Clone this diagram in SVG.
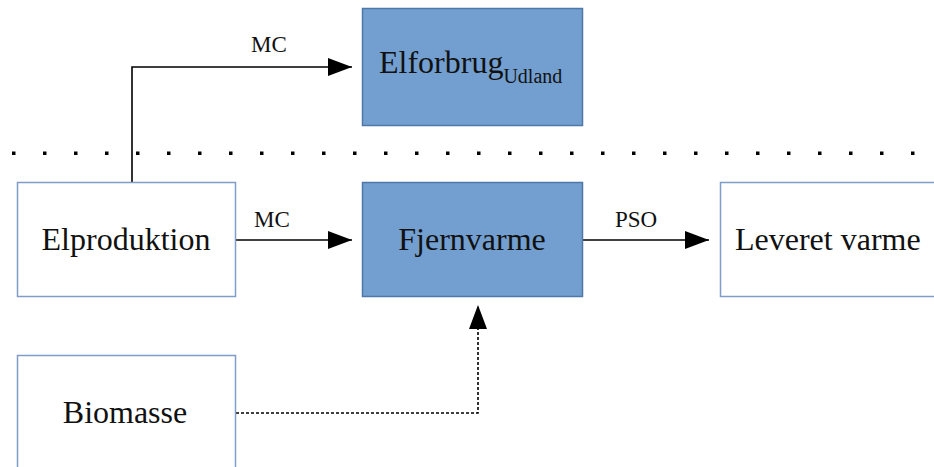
<svg xmlns="http://www.w3.org/2000/svg" width="934" height="467" viewBox="0 0 934 467">
<style>
  .box-w { fill: #ffffff; stroke: #7f9dc6; stroke-width: 1.5; }
  .box-b { fill: #729fcf; stroke: #4f78aa; stroke-width: 1.5; }
  .lbl { font-family: "Liberation Serif", "Times New Roman", serif; font-size: 32px; fill: #111; }
  .sub { font-family: "Liberation Serif", "Times New Roman", serif; font-size: 20px; fill: #111; }
  .elbl { font-family: "Liberation Serif", "Times New Roman", serif; font-size: 23px; fill: #111; text-anchor: middle; }
  .conn { fill: none; stroke: #000; stroke-width: 1.6; }
  .dash { stroke-dasharray: 3 2; }
  .dot { fill: #000; }
</style>
<defs>
  <marker id="arr" markerUnits="userSpaceOnUse" markerWidth="26" markerHeight="20" refX="24" refY="9" orient="auto">
    <path d="M0,0 L24,9 L0,18 z" fill="#000"/>
  </marker>
</defs>
<rect width="934" height="467" fill="#ffffff"/>

<g id="separator">
  <rect class="dot" x="12" y="151.5" width="3.5" height="3.5"/>
  <rect class="dot" x="43" y="151.5" width="3.5" height="3.5"/>
  <rect class="dot" x="74" y="151.5" width="3.5" height="3.5"/>
  <rect class="dot" x="105" y="151.5" width="3.5" height="3.5"/>
  <rect class="dot" x="136" y="151.5" width="3.5" height="3.5"/>
  <rect class="dot" x="167" y="151.5" width="3.5" height="3.5"/>
  <rect class="dot" x="198" y="151.5" width="3.5" height="3.5"/>
  <rect class="dot" x="229" y="151.5" width="3.5" height="3.5"/>
  <rect class="dot" x="260" y="151.5" width="3.5" height="3.5"/>
  <rect class="dot" x="291" y="151.5" width="3.5" height="3.5"/>
  <rect class="dot" x="322" y="151.5" width="3.5" height="3.5"/>
  <rect class="dot" x="353" y="151.5" width="3.5" height="3.5"/>
  <rect class="dot" x="384" y="151.5" width="3.5" height="3.5"/>
  <rect class="dot" x="415" y="151.5" width="3.5" height="3.5"/>
  <rect class="dot" x="446" y="151.5" width="3.5" height="3.5"/>
  <rect class="dot" x="477" y="151.5" width="3.5" height="3.5"/>
  <rect class="dot" x="508" y="151.5" width="3.5" height="3.5"/>
  <rect class="dot" x="539" y="151.5" width="3.5" height="3.5"/>
  <rect class="dot" x="570" y="151.5" width="3.5" height="3.5"/>
  <rect class="dot" x="601" y="151.5" width="3.5" height="3.5"/>
  <rect class="dot" x="632" y="151.5" width="3.5" height="3.5"/>
  <rect class="dot" x="663" y="151.5" width="3.5" height="3.5"/>
  <rect class="dot" x="694" y="151.5" width="3.5" height="3.5"/>
  <rect class="dot" x="725" y="151.5" width="3.5" height="3.5"/>
  <rect class="dot" x="756" y="151.5" width="3.5" height="3.5"/>
  <rect class="dot" x="787" y="151.5" width="3.5" height="3.5"/>
  <rect class="dot" x="818" y="151.5" width="3.5" height="3.5"/>
  <rect class="dot" x="849" y="151.5" width="3.5" height="3.5"/>
  <rect class="dot" x="880" y="151.5" width="3.5" height="3.5"/>
  <rect class="dot" x="911" y="151.5" width="3.5" height="3.5"/>
</g>

<g id="connectors">
  <path class="conn" d="M132,182 V67 H352" marker-end="url(#arr)"/>
  <path class="conn" d="M236,240 H352" marker-end="url(#arr)"/>
  <path class="conn" d="M582,240 H709" marker-end="url(#arr)"/>
  <path class="conn dash" d="M236,413 H478 V305" marker-end="url(#arr)"/>
  <text class="elbl" x="269" y="52">MC</text>
  <text class="elbl" x="272" y="227">MC</text>
  <text class="elbl" x="636" y="227">PSO</text>
</g>

<g id="elforbrug">
  <rect class="box-b" x="362.5" y="8.5" width="220" height="117"/>
  <text class="lbl" x="379" y="73">Elforbrug<tspan class="sub" dy="10">Udland</tspan></text>
</g>

<g id="elproduktion">
  <rect class="box-w" x="17.5" y="182.5" width="218" height="114"/>
  <text class="lbl" x="126" y="250" text-anchor="middle">Elproduktion</text>
</g>

<g id="fjernvarme">
  <rect class="box-b" x="362.5" y="182.5" width="220" height="114"/>
  <text class="lbl" x="472" y="250" text-anchor="middle">Fjernvarme</text>
</g>

<g id="leveret">
  <rect class="box-w" x="720.5" y="182.5" width="240" height="114"/>
  <text class="lbl" x="735" y="250">Leveret varme</text>
</g>

<g id="biomasse">
  <rect class="box-w" x="17.5" y="355.5" width="218" height="130"/>
  <text class="lbl" x="125" y="423" text-anchor="middle">Biomasse</text>
</g>
</svg>
